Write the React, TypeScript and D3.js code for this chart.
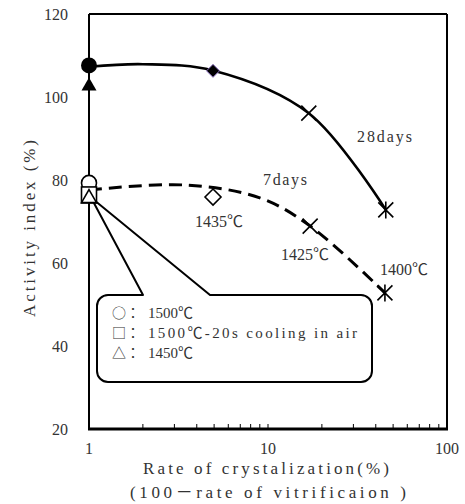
import React from "react";
import * as d3 from "d3";

// ---- data ----
const yTickValues = [20, 40, 60, 80, 100, 120];
const xTickLabels = [1, 10, 100];
const xMinorTicks = [2, 3, 4, 5, 6, 7, 8, 9, 10, 20, 30, 40, 50, 60, 70, 80, 90];

// 28 days markers: circle(1500), triangle(1450), diamond(1435), times(1425), asterisk(1400)
const days28Kinds = ["circleFilled", "triangleFilled", "diamondFilled", "times", "asterisk"];
const days28X = [1, 1, 4.93, 16.9, 45.5];
const days28Y = [107.6, 102.6, 106.3, 96.1, 72.8];

// 7 days markers: circle(1500), square(1500-20s), triangle(1450), diamond(1435), times(1425), asterisk(1400)
const days7Kinds = ["circleOpen", "squareOpen", "triangleOpen", "diamondOpen", "times", "asterisk"];
const days7X = [1, 1, 1, 4.93, 17.2, 45];
const days7Y = [79.3, 76.4, 75.6, 75.9, 68.9, 52.8];

// trend curves
const trend28X = [1, 2, 4.93, 16.9, 45.5];
const trend28Y = [107.3, 107.9, 106.4, 96.1, 72.8];
const trend7X = [1, 3.4, 9, 17.2, 45];
const trend7Y = [77.6, 78.8, 75.7, 68.9, 52.8];

const legendSymbols = ["○", "□", "△"];
const legendTexts = ["1500℃", "1500℃-20s cooling in air", "1450℃"];

const CJK = "'Noto Sans CJK JP', sans-serif";
const SERIF = "'Liberation Serif', 'Noto Sans CJK JP', serif";

function Marker({ kind, cx, cy }: { kind: string; cx: number; cy: number }) {
  const tri = (s: number) => {
    const h = (Math.sqrt(3) / 2) * s;
    return `M${cx},${cy - (2 * h) / 3}L${cx + s / 2},${cy + h / 3}L${cx - s / 2},${cy + h / 3}Z`;
  };
  switch (kind) {
    case "circleFilled":
      return <circle cx={cx} cy={cy} r={8} fill="#000" />;
    case "circleOpen":
      return <circle cx={cx} cy={cy} r={7.5} fill="#fff" stroke="#000" strokeWidth={1.6} />;
    case "triangleFilled":
      return <path d={tri(15)} fill="#000" />;
    case "triangleOpen":
      return <path d={tri(15)} fill="#fff" stroke="#000" strokeWidth={1.6} />;
    case "squareOpen":
      return <rect x={cx - 7.5} y={cy - 8} width={15} height={16} fill="#fff" stroke="#000" strokeWidth={1.6} />;
    case "diamondFilled": {
      const r = 6.5;
      return (
        <path
          d={`M${cx},${cy - r}L${cx + r},${cy}L${cx},${cy + r}L${cx - r},${cy}Z`}
          fill="#000"
          stroke="#8a6fc0"
          strokeWidth={1}
        />
      );
    }
    case "diamondOpen": {
      const r = 8;
      return (
        <path
          d={`M${cx},${cy - r}L${cx + r},${cy}L${cx},${cy + r}L${cx - r},${cy}Z`}
          fill="#fff"
          stroke="#000"
          strokeWidth={1.6}
        />
      );
    }
    case "times": {
      const r = 7.5;
      return (
        <path
          d={`M${cx - r},${cy - r}L${cx + r},${cy + r}M${cx - r},${cy + r}L${cx + r},${cy - r}`}
          stroke="#000"
          strokeWidth={1.6}
          fill="none"
        />
      );
    }
    case "asterisk": {
      const r = 7.5;
      return (
        <path
          d={`M${cx - r},${cy - r}L${cx + r},${cy + r}M${cx - r},${cy + r}L${cx + r},${cy - r}M${cx},${cy - r - 1}L${cx},${cy + r + 1}`}
          stroke="#000"
          strokeWidth={1.6}
          fill="none"
        />
      );
    }
    default:
      return null;
  }
}

export default function App() {
  const W = 465;
  const H = 504;
  const left = 89;
  const right = 447;
  const top = 14;
  const bottom = 429;

  const x = d3.scaleLog().domain([1, 100]).range([left, right]);
  const y = d3.scaleLinear().domain([20, 120]).range([bottom, top]);

  const line = d3
    .line<[number, number]>()
    .x((d) => x(d[0]))
    .y((d) => y(d[1]))
    .curve(d3.curveCatmullRom.alpha(0.5));

  const t28 = trend28X.map((v, i) => [v, trend28Y[i]] as [number, number]);
  const t7 = trend7X.map((v, i) => [v, trend7Y[i]] as [number, number]);

  // callout
  const bx0 = 97, bx1 = 372, by0 = 295, by1 = 382, rr = 11;
  const tipX = x(1) + 2, tipY = y(75.8);
  const callout =
    `M${bx0 + rr},${by0}L143,${by0}L${tipX},${tipY}L210,${by0}L${bx1 - rr},${by0}` +
    `A${rr},${rr} 0 0 1 ${bx1},${by0 + rr}L${bx1},${by1 - rr}` +
    `A${rr},${rr} 0 0 1 ${bx1 - rr},${by1}L${bx0 + rr},${by1}` +
    `A${rr},${rr} 0 0 1 ${bx0},${by1 - rr}L${bx0},${by0 + rr}` +
    `A${rr},${rr} 0 0 1 ${bx0 + rr},${by0}Z`;

  const legendTextLen = [45, 209, 45];

  return (
    <svg
      width={W}
      height={H}
      style={{ position: "absolute", left: 0, top: 0, background: "#fff" }}
    >
      <rect x={0} y={0} width={W} height={H} fill="#fff" />

      {/* frame */}
      <line x1={left} y1={top} x2={right} y2={top} stroke="#000" strokeWidth={2} />
      <line x1={right} y1={top} x2={right} y2={bottom} stroke="#000" strokeWidth={2} />
      <line x1={left} y1={top} x2={left} y2={bottom} stroke="#000" strokeWidth={2} />

      {/* minor ticks */}
      {xMinorTicks.map((t) => (
        <line key={t} x1={x(t)} x2={x(t)} y1={bottom} y2={bottom - 5} stroke="#000" strokeWidth={1} />
      ))}
      <line x1={left - 1} y1={bottom} x2={right + 1} y2={bottom} stroke="#000" strokeWidth={3} />

      {/* y tick labels */}
      {yTickValues.map((v) => (
        <text key={v} x={68} y={y(v) + 5.5} textAnchor="end" fontFamily={SERIF} fontSize={16} fill="#333">
          {v}
        </text>
      ))}

      {/* x tick labels */}
      {xTickLabels.map((v) => (
        <text key={v} x={x(v)} y={454} textAnchor="middle" fontFamily={SERIF} fontSize={16} fill="#333">
          {v}
        </text>
      ))}

      {/* axis titles */}
      <text
        transform={`translate(35,317) rotate(-90)`}
        fontFamily={SERIF}
        fontSize={17}
        fill="#333"
        textLength={177}
        lengthAdjust="spacing"
      >
        Activity index (%)
      </text>
      <text x={143} y={474} fontFamily={SERIF} fontSize={17} fill="#333" textLength={246} lengthAdjust="spacing">
        Rate of crystalization(%)
      </text>
      <text x={130} y={498} fontFamily={SERIF} fontSize={17} fill="#333" textLength={276} lengthAdjust="spacing">
        (100－rate of vitrificaion )
      </text>

      {/* callout legend */}
      <path d={callout} fill="#fff" stroke="#000" strokeWidth={2} strokeLinejoin="round" />
      {legendSymbols.map((s, i) => (
        <g key={i}>
          <text x={112} y={318 + i * 20} fontFamily={CJK} fontSize={14} fill="#333">
            {s}：
          </text>
          <text
            x={148}
            y={318 + i * 20}
            fontFamily={SERIF}
            fontSize={15}
            fill="#333"
            textLength={legendTextLen[i]}
            lengthAdjust="spacing"
          >
            {legendTexts[i]}
          </text>
        </g>
      ))}

      {/* trend curves */}
      <path d={line(t28) || ""} fill="none" stroke="#000" strokeWidth={2.6} />
      <path d={line(t7) || ""} fill="none" stroke="#000" strokeWidth={3} strokeDasharray="13 7" />

      {/* markers */}
      {days28Kinds.map((k, i) => (
        <Marker key={"a" + i} kind={k} cx={x(days28X[i])} cy={y(days28Y[i])} />
      ))}
      {days7Kinds.map((k, i) => (
        <Marker key={"b" + i} kind={k} cx={x(days7X[i])} cy={y(days7Y[i])} />
      ))}

      {/* annotations */}
      <text x={357} y={142} fontFamily={SERIF} fontSize={16} fill="#333" textLength={55} lengthAdjust="spacing">
        28days
      </text>
      <text x={263} y={185} fontFamily={SERIF} fontSize={16} fill="#333" textLength={44} lengthAdjust="spacing">
        7days
      </text>
      <text x={219} y={227} textAnchor="middle" fontFamily={SERIF} fontSize={16} fill="#333">
        1435℃
      </text>
      <text x={305} y={260} textAnchor="middle" fontFamily={SERIF} fontSize={16} fill="#333">
        1425℃
      </text>
      <text x={404} y={275} textAnchor="middle" fontFamily={SERIF} fontSize={16} fill="#333">
        1400℃
      </text>
    </svg>
  );
}
